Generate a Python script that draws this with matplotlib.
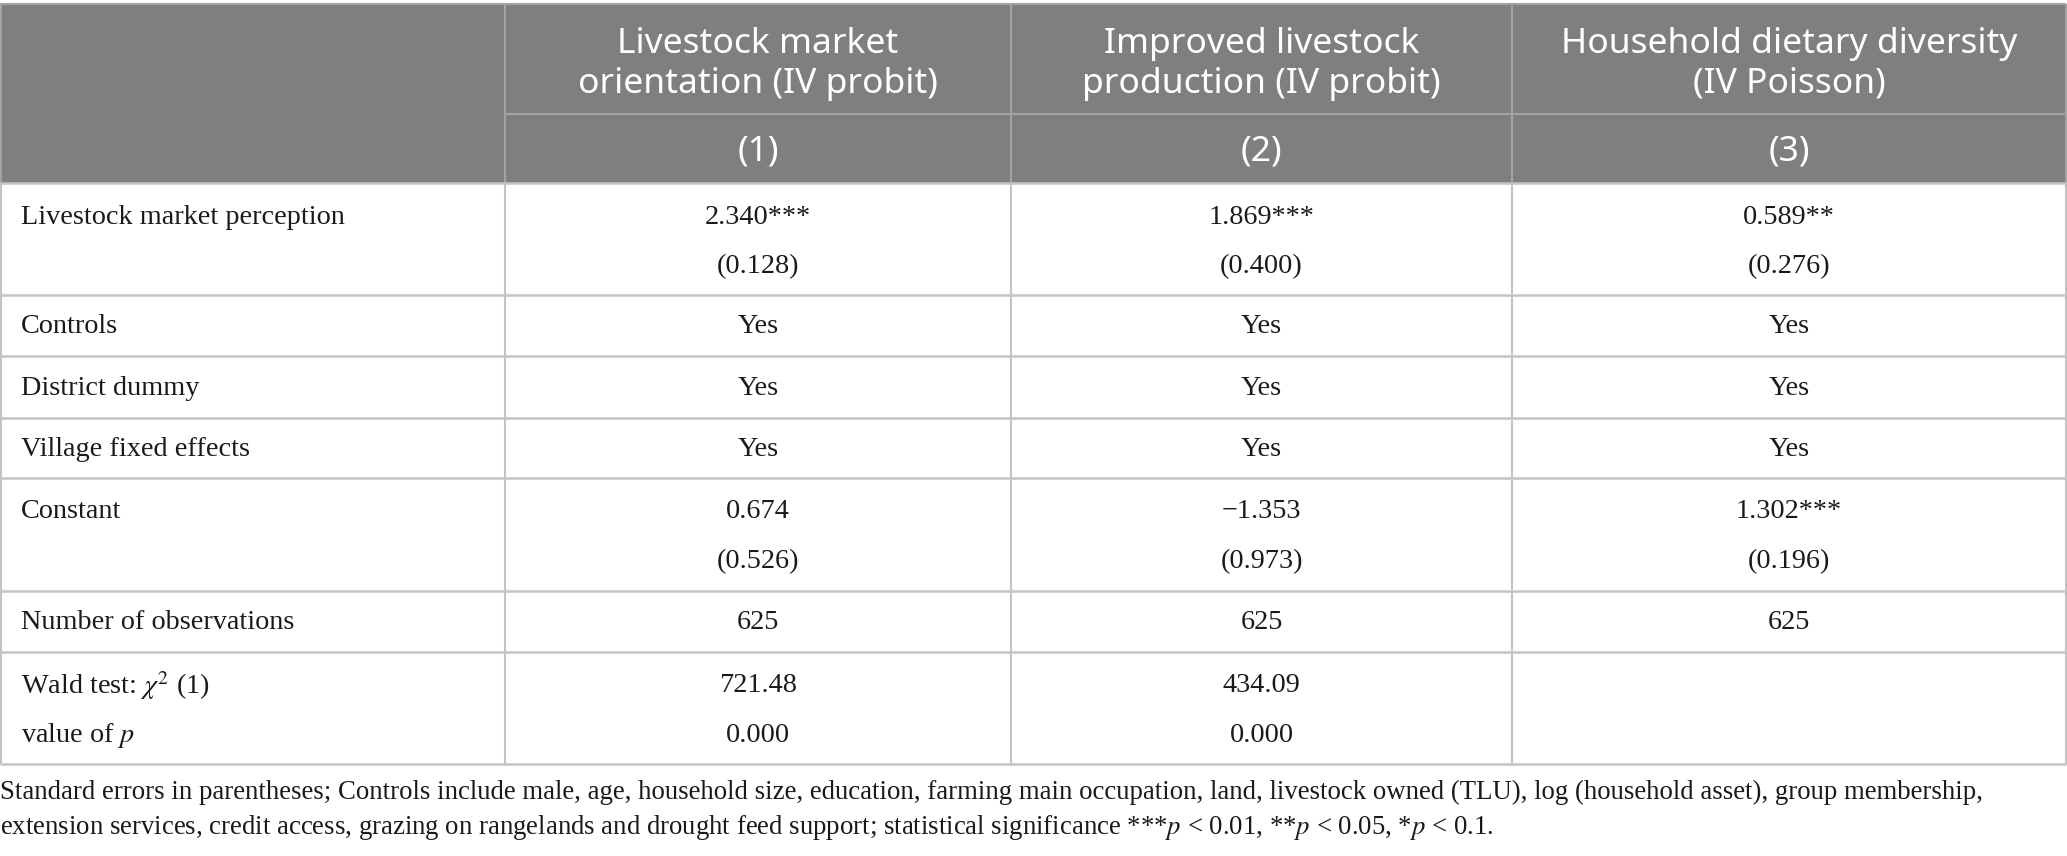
import matplotlib
matplotlib.use("Agg")
import matplotlib.pyplot as plt

# ---- table content ----
col_titles = ["Livestock market\norientation (IV probit)",
              "Improved livestock\nproduction (IV probit)",
              "Household dietary diversity\n(IV Poisson)"]
col_numbers = ["(1)", "(2)", "(3)"]

row_labels = [["Livestock market perception"],
              ["Controls"],
              ["District dummy"],
              ["Village fixed effects"],
              ["Constant"],
              ["Number of observations"],
              ["Wald test: $\\chi^2$ (1)", "value of $p$"]]

coef = ["2.340***", "1.869***", "0.589**"]
coef_se = ["(0.128)", "(0.400)", "(0.276)"]
controls = ["Yes", "Yes", "Yes"]
district = ["Yes", "Yes", "Yes"]
village = ["Yes", "Yes", "Yes"]
const = ["0.674", "\u22121.353", "1.302***"]
const_se = ["(0.526)", "(0.973)", "(0.196)"]
nobs = ["625", "625", "625"]
wald = ["721.48", "434.09", ""]
wald_p = ["0.000", "0.000", ""]

cells = [[coef, coef_se], [controls], [district], [village],
         [const, const_se], [nobs], [wald, wald_p]]

footnote = ["Standard errors in parentheses; Controls include male, age, household size, education, "
            "farming main occupation, land, livestock owned (TLU), log (household asset), group membership,",
            "extension services, credit access, grazing on rangelands and drought feed support; "
            "statistical significance ***$p$ < 0.01, **$p$ < 0.05, *$p$ < 0.1."]

# ---- layout (pixels) ----
W, H = 2067, 856
col_x = [0, 505, 1011, 1512, 2066]
head_top, head_mid, head_bot = 4, 114, 183
row_y = [183, 295, 356, 418, 478, 591, 652, 764]

plt.rcParams['mathtext.fontset'] = 'stix'

fig = plt.figure(figsize=(W / 100, H / 100), dpi=100)
ax = fig.add_axes([0, 0, 1, 1])
ax.set_xlim(0, W)
ax.set_ylim(H, 0)
ax.axis('off')

# header background
ax.fill_between([col_x[0], col_x[-1]], head_top, head_bot, color="#7f807e", lw=0)
hline_c = "#a3a3a3"
ax.hlines(head_top, col_x[0], col_x[-1], color=hline_c, lw=1.5)
ax.hlines(head_mid, col_x[1], col_x[-1], color=hline_c, lw=1.5)
ax.vlines(col_x[1:4], head_top, head_bot, color=hline_c, lw=1.5)
ax.vlines([col_x[0] + 1, col_x[-1]], head_top, head_bot, color=hline_c, lw=1.5)

# body grid
grid_c = "#c4c4c4"
ax.hlines(row_y, col_x[0], col_x[-1], color=grid_c, lw=1.8)
ax.vlines([col_x[0] + 1] + col_x[1:], row_y[0], row_y[-1], color=grid_c, lw=1.5)

head_font = dict(family="Noto Sans", fontweight="light", color="white",
                 fontsize=25.5, ha="center", va="center")
for i, (t, n) in enumerate(zip(col_titles, col_numbers)):
    cx = (col_x[i + 1] + col_x[i + 2]) / 2
    ax.text(cx, (head_top + head_mid) / 2 + 5, t, linespacing=1.2, **head_font)
    ax.text(cx, (head_mid + head_bot) / 2 + 3, n, **head_font)

body_font = dict(family="Liberation Serif", color="#1a1a1a", fontsize=20.3, va="center")
for r in range(len(row_labels)):
    top, bot = row_y[r], row_y[r + 1]
    nlines = len(row_labels[r])
    if nlines == 1 and len(cells[r]) == 1:
        ys = [(top + bot) / 2 + 1]
    else:
        ys = [top + 34, top + 84]
    for k, lab in enumerate(row_labels[r]):
        ax.text(21, ys[k], lab, ha="left", **body_font)
    for k, vals in enumerate(cells[r]):
        for c, v in enumerate(vals):
            cx = (col_x[c + 1] + col_x[c + 2]) / 2
            ax.text(cx, ys[k], v, ha="center", **body_font)

for k, line in enumerate(footnote):
    ax.text(0, 792 + 36 * k, line, ha="left", va="center",
            family="Liberation Serif", color="#1a1a1a", fontsize=19.3)

fig.savefig("out.png", dpi=100)
